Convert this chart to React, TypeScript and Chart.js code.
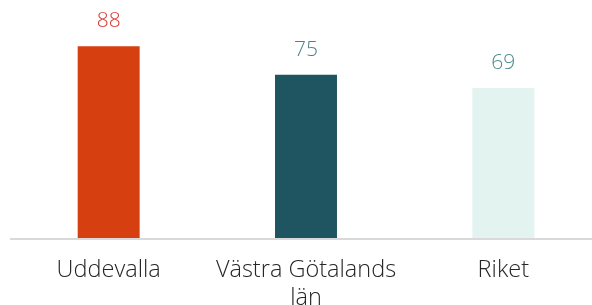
import React, { useEffect, useRef } from "react";
import { Chart, registerables } from "chart.js";

Chart.register(...registerables);

const categories: (string | string[])[] = ["Uddevalla", ["Västra Götalands", "län"], "Riket"];
const values = [88, 75, 69];
const barColors = ["#D63F0F", "#1F5560", "#E3F3F0"];
const labelColors = ["#D93A35", "#4E8088", "#4E8A8E"];

const FONT = "'Open Sans', Lato, sans-serif";

const valueLabelPlugin = {
  id: "valueLabels",
  afterDatasetsDraw(chart: any) {
    const ctx = chart.ctx;
    const meta = chart.getDatasetMeta(0);
    const area = chart.chartArea;
    ctx.save();
    ctx.strokeStyle = "#D9D9D9";
    ctx.lineWidth = 2;
    ctx.beginPath();
    ctx.moveTo(area.left, area.bottom);
    ctx.lineTo(chart.width, area.bottom);
    ctx.stroke();
    ctx.font = `300 21px ${FONT}`;
    ctx.textAlign = "center";
    ctx.textBaseline = "middle";
    meta.data.forEach((bar: any, i: number) => {
      ctx.fillStyle = labelColors[i];
      ctx.fillText(String(values[i]), bar.x, bar.y - 25);
    });
    ctx.restore();
  },
};

export default function App() {
  const ref = useRef<HTMLCanvasElement | null>(null);
  useEffect(() => {
    document.documentElement.style.overflow = "hidden";
    document.body.style.marginRight = "0px";
    const chart = new Chart(ref.current!, {
      type: "bar",
      data: {
        labels: categories,
        datasets: [
          {
            data: values,
            backgroundColor: barColors,
            borderWidth: 0,
            categoryPercentage: 1,
            barPercentage: 0.314,
          },
        ],
      },
      options: {
        animation: false,
        responsive: true,
        maintainAspectRatio: false,
        layout: { padding: { left: 2, right: 0, top: 12, bottom: 0 } },
        plugins: { legend: { display: false }, tooltip: { enabled: false } },
        scales: {
          x: {
            grid: { display: false },
            border: { display: false },
            afterFit: (scale: any) => {
              scale.height = 66;
            },
            ticks: {
              color: "#262626",
              padding: 9,
              maxRotation: 0,
              autoSkip: false,
              font: { family: FONT, size: 23.5, weight: "300" as any, lineHeight: 1.2 },
            },
          },
          y: { display: false, min: 0, max: 100 },
        },
      },
      plugins: [valueLabelPlugin],
    });
    return () => chart.destroy();
  }, []);
  return (
    <div style={{ width: 584, height: 297, overflow: "hidden" }}>
      <div style={{ width: 594, height: 297, position: "relative" }}>
        <canvas ref={ref} />
      </div>
    </div>
  );
}
